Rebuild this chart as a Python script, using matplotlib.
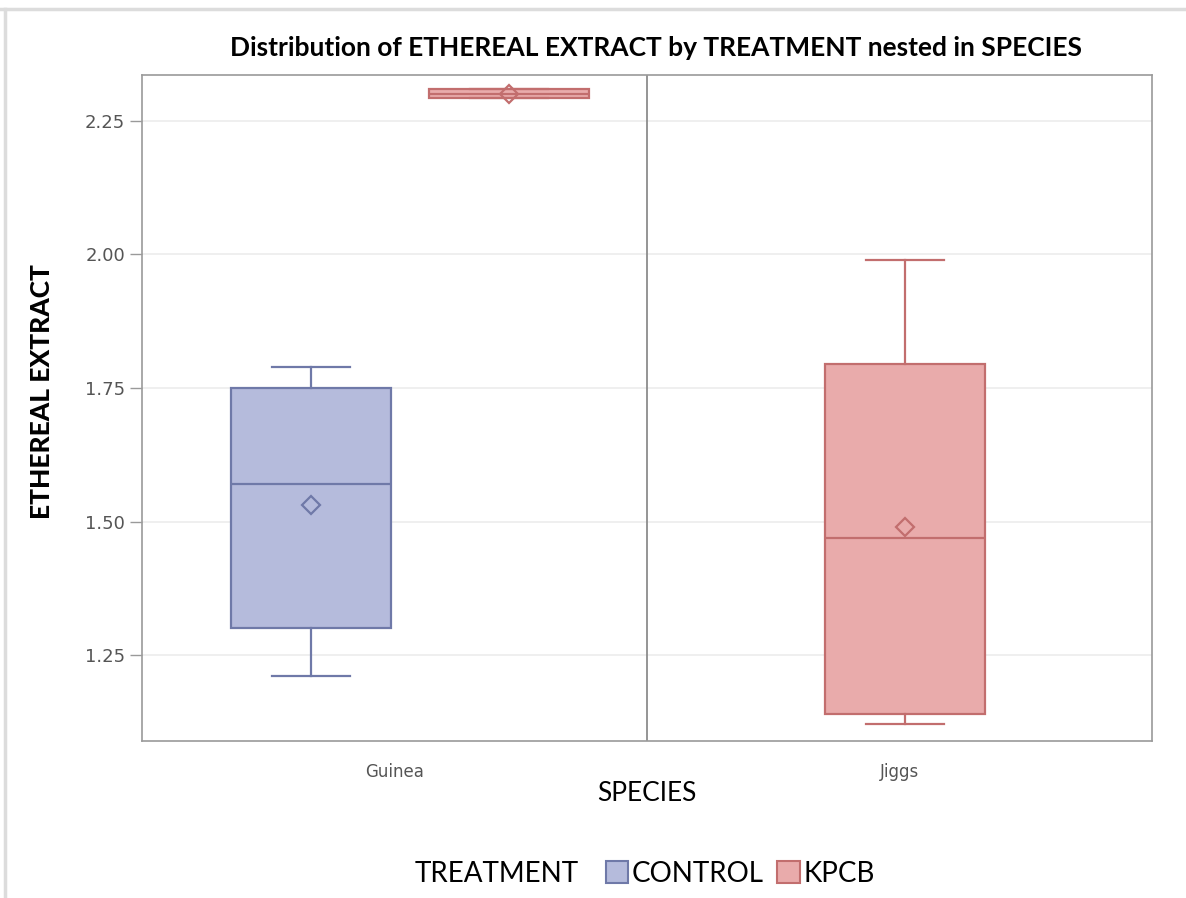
import matplotlib
matplotlib.use('Agg')
import matplotlib.pyplot as plt
from matplotlib.patches import Patch
from matplotlib.lines import Line2D
from matplotlib import font_manager

# summary statistics per box (SPECIES x TREATMENT)
species = ['Guinea', 'Jiggs']
treatments = ['CONTROL', 'KPCB']
box_species = ['Guinea', 'Guinea', 'Jiggs']
box_treatment = ['CONTROL', 'KPCB', 'KPCB']
whislo = [1.21, 2.292, 1.12]
q1 = [1.30, 2.292, 1.14]
median = [1.57, 2.30, 1.47]
mean = [1.53, 2.30, 1.49]
q3 = [1.75, 2.309, 1.795]
whishi = [1.79, 2.309, 1.99]

fill_colors = {'CONTROL': '#b5bbdc', 'KPCB': '#e9abab'}
edge_colors = {'CONTROL': '#6f79a8', 'KPCB': '#c26e6e'}

names = {f.name for f in font_manager.fontManager.ttflist}
label_font = 'Liberation Sans Narrow' if 'Liberation Sans Narrow' in names else 'Lato'

fig = plt.figure(figsize=(11.86, 8.98), dpi=100)
ax = fig.add_axes([0.1197, 0.1748, 0.8516, 0.7417])

# horizontal offset of each box inside its species cell
offsets = {('Guinea', 'CONTROL'): -0.165, ('Guinea', 'KPCB'): 0.227,
           ('Jiggs', 'KPCB'): 0.011}

for i in range(len(box_species)):
    sp, tr = box_species[i], box_treatment[i]
    pos = species.index(sp) + 0.5 + offsets[(sp, tr)]
    stats = [dict(whislo=whislo[i], q1=q1[i], med=median[i], q3=q3[i],
                  whishi=whishi[i], mean=mean[i], fliers=[])]
    ec = edge_colors[tr]
    ax.bxp(stats, positions=[pos], widths=0.318, patch_artist=True,
           showmeans=True, manage_ticks=False,
           boxprops=dict(facecolor=fill_colors[tr], edgecolor=ec, linewidth=1.6),
           medianprops=dict(color=ec, linewidth=1.6),
           whiskerprops=dict(color=ec, linewidth=1.6),
           capprops=dict(color=ec, linewidth=1.6),
           meanprops=dict(marker='D', markersize=9, markerfacecolor='none',
                          markeredgecolor=ec, markeredgewidth=1.6),
           capwidths=0.155, zorder=3)

ax.set_xlim(0, 2)
ax.set_ylim(1.089, 2.336)
ax.set_yticks([1.25, 1.50, 1.75, 2.00, 2.25])
ax.set_yticklabels(['1.25', '1.50', '1.75', '2.00', '2.25'])
ax.set_xticks([0.5, 1.5])
ax.set_xticklabels(species)
ax.axvline(1.0, color='#8c8c8c', linewidth=1.3, zorder=2)
ax.yaxis.grid(True, color='#ececec', linewidth=1.2, zorder=0)
ax.set_axisbelow(True)
for s in ax.spines.values():
    s.set_color('#9a9a9a')
    s.set_linewidth(1.2)
ax.tick_params(axis='y', colors='#9a9a9a', labelcolor='#555555',
               labelsize=13, length=9, width=1, pad=3)
ax.tick_params(axis='x', length=0, pad=16, labelcolor='#555555', labelsize=12)

ax.set_xlabel('SPECIES', fontfamily=label_font, fontsize=19, labelpad=0)
fig.text(42 / 1186, 1 - 392 / 898, 'ETHEREAL EXTRACT', rotation=90,
         ha='center', va='center', fontfamily=label_font, fontsize=19,
         fontweight='black')
fig.text(0.553, 0.946, 'Distribution of ETHEREAL EXTRACT by TREATMENT nested in SPECIES',
         ha='center', va='center', fontfamily=label_font, fontsize=19,
         fontweight='bold')

# legend row
fig.text(0.35, 0.027, 'TREATMENT', fontfamily=label_font, fontsize=20, va='center')
handles = [Patch(facecolor=fill_colors[t], edgecolor=edge_colors[t], linewidth=1.5)
           for t in treatments]
fig.legend(handles, treatments, loc='center left', bbox_to_anchor=(0.511, 0.027),
           ncol=2, frameon=False, prop=dict(family=label_font, size=20),
           handlelength=0.8, handleheight=0.8, handletextpad=0.12,
           columnspacing=0.5, borderpad=0, borderaxespad=0)

# light outer border along the top and left edges
fig.add_artist(Line2D([0, 1], [1 - 9 / 898] * 2, transform=fig.transFigure,
                      color='#dcdcdc', linewidth=2.5))
fig.add_artist(Line2D([5 / 1186] * 2, [0, 1 - 9 / 898], transform=fig.transFigure,
                      color='#dcdcdc', linewidth=2.5))

fig.savefig('out.png', dpi=100)
